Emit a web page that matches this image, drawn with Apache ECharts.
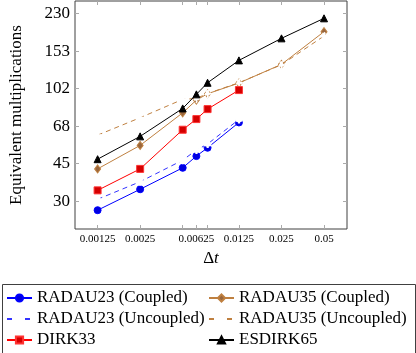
<!DOCTYPE html>
<html>
<head>
<meta charset="utf-8">
<script src="https://cdn.jsdelivr.net/npm/echarts@6/dist/echarts.min.js"></script>
<style>
html,body{margin:0;padding:0;background:#fff;}
#c{width:416px;height:353px;}
</style>
</head>
<body>
<div id="c"></div>
<script>
// ---- data ----
const dt = [0.00125, 0.0025, 0.005, 0.00625, 0.0075, 0.0125, 0.025, 0.05];
const radau23Coupled   = [27.2, 34.1, 43.0, 48.8, 53.4, 70.2];
const radau35Coupled   = [42.5, 54.8, 77.9, 89.4, 95.7, 107.5, 131.5, 187.2];
const radau23Uncoupled = [30.6, 37.0, 46.7, 52.1, 55.6, 72.5];
const radau35Uncoupled = [61.2, 73.9, 90.1, 91.0, 96.0, 107.8, 131.0, 178.7];
const dirk33           = [33.7, 42.5, 64.9, 72.8, 81.1, 99.6];
const esdirk65         = [47.2, 60.4, 81.7, 95.1, 107.8, 137.3, 174.2, 216.3];

const xTickValues  = [0.00125, 0.0025, 0.005, 0.00625, 0.0075, 0.0125, 0.025, 0.05];
const xLabelValues = [0.00125, 0.0025, 0.00625, 0.0125, 0.025, 0.05];
const xLabelTexts  = ['0.00125', '0.0025', '0.00625', '0.0125', '0.025', '0.05'];
const yTickValues  = [30, 45, 67.5, 101.25, 151.875, 227.8125];
const yLabelTexts  = ['30', '45', '68', '102', '153', '230'];

const FONT = 'Liberation Serif';

function pairs(ys) { return ys.map((y, i) => [dt[i], y]); }
function lookup(vals, texts, v) {
  for (let i = 0; i < vals.length; i++) {
    if (Math.abs(Math.log(vals[i]) - Math.log(v)) < 1e-3) return texts[i];
  }
  return '';
}

const tickStyle = { show: true, inside: true, length: 4, lineStyle: { color: '#aaaaaa', width: 1 } };

function xAxisBase(pos, showLabel) {
  return {
    type: 'log', position: pos, min: 0.000865, max: 0.0727,
    axisLine: { show: false },
    axisTick: Object.assign({ customValues: xTickValues }, tickStyle),
    axisLabel: {
      show: showLabel, customValues: xLabelValues, margin: 5,
      fontFamily: FONT, fontSize: 11, color: '#000',
      formatter: v => lookup(xLabelValues, xLabelTexts, v)
    },
    splitLine: { show: false }, minorTick: { show: false }, minorSplitLine: { show: false }
  };
}
function yAxisBase(pos, showLabel) {
  return {
    type: 'log', position: pos, min: 22.2, max: 260.8,
    axisLine: { show: false },
    axisTick: Object.assign({ customValues: yTickValues }, tickStyle),
    axisLabel: {
      show: showLabel, customValues: yTickValues, margin: 5,
      fontFamily: FONT, fontSize: 17, color: '#000',
      formatter: v => lookup(yTickValues, yLabelTexts, v)
    },
    splitLine: { show: false }, minorTick: { show: false }, minorSplitLine: { show: false }
  };
}

const x0 = xAxisBase('bottom', true);
x0.name = '{a|Δ}{b|t}';
x0.nameLocation = 'middle';
x0.nameGap = 20;
x0.nameTextStyle = { fontFamily: FONT, fontSize: 17, color: '#000',
  rich: { a: { fontFamily: FONT, fontSize: 17, color: '#000' },
          b: { fontFamily: FONT, fontSize: 17, fontStyle: 'italic', color: '#000' } } };
const x1 = xAxisBase('top', false);

const y0 = yAxisBase('left', true);
y0.name = 'Equivalent multiplications';
y0.nameLocation = 'middle';
y0.nameGap = 50;
y0.nameTextStyle = { fontFamily: FONT, fontSize: 17, color: '#000' };
const y1 = yAxisBase('right', false);

function mk(name, ys, lineColor, symbol, fill, border, size, dashed) {
  return {
    name: name, type: 'line', data: pairs(ys),
    xAxisIndex: 0, yAxisIndex: 0,
    symbol: symbol, symbolSize: size, showSymbol: true,
    lineStyle: { color: lineColor, width: 1, type: dashed ? [5, 4] : 'solid' },
    itemStyle: { color: fill, borderColor: border, borderWidth: 1, borderType: dashed ? [2, 1.5] : 'solid' },
    emphasis: { disabled: true },
    animation: false
  };
}

const series = [
  mk('RADAU23 (Coupled)', radau23Coupled, '#0000ff', 'circle', '#0000e0', '#0000ff', 7, false),
  mk('RADAU35 (Coupled)', radau35Coupled, '#bf8040', 'diamond', '#99663d', '#bf8040', [6, 8], false),
  mk('RADAU23 (Uncoupled)', radau23Uncoupled, '#3333ff', 'emptyCircle', '#fff', '#3333ff', 6, true),
  mk('RADAU35 (Uncoupled)', radau35Uncoupled, '#bf8040', 'emptyDiamond', '#fff', '#bf8040', [5, 7], true),
  mk('DIRK33', dirk33, '#ff0000', 'rect', '#d40000', '#ff3333', 7, false),
  mk('ESDIRK65', esdirk65, '#000000', 'triangle', '#000000', '#000000', 7, false)
];

const legendCommon = {
  orient: 'vertical', top: 289, height: 90, padding: 0, itemWidth: 25, itemHeight: 9, itemGap: 3,
  textStyle: { fontFamily: FONT, fontSize: 17, color: '#000', lineHeight: 18 },
  selectedMode: false
};

const option = {
  backgroundColor: '#ffffff',
  animation: false,
  grid: { left: 70, right: 69, top: 1, bottom: 124, show: true, borderColor: '#404040', borderWidth: 1, backgroundColor: 'transparent' },
  xAxis: [x0, x1],
  yAxis: [y0, y1],
  legend: [
    Object.assign({ left: 6, data: ['RADAU23 (Coupled)', 'RADAU23 (Uncoupled)', 'DIRK33'] }, legendCommon),
    Object.assign({ left: 208, data: ['RADAU35 (Coupled)', 'RADAU35 (Uncoupled)', 'ESDIRK65'] }, legendCommon)
  ],
  graphic: [{
    type: 'rect', left: 0, top: 282, z: 100,
    shape: { x: 0.5, y: 0.5, width: 413, height: 70 },
    style: { fill: 'none', stroke: '#404040', lineWidth: 1 }
  }],
  series: series
};

const chart = echarts.init(document.getElementById('c'), null, { renderer: 'canvas' });
chart.setOption(option);
</script>
</body>
</html>
